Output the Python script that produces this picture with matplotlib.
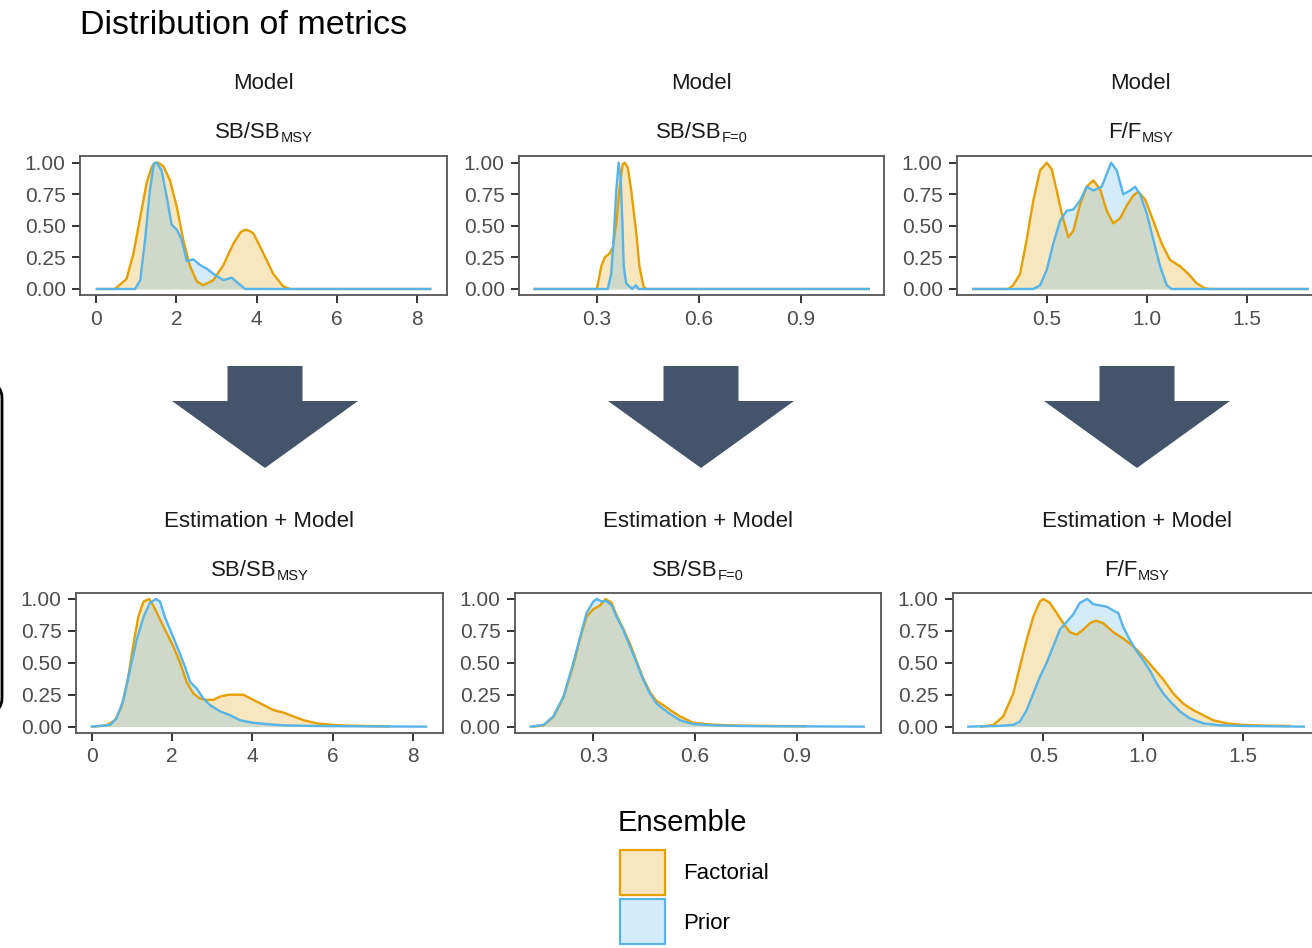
import matplotlib
matplotlib.use("Agg")
import matplotlib.pyplot as plt
from matplotlib.patches import Polygon, FancyBboxPatch, Patch

plt.rcParams['font.family'] = ['Liberation Sans', 'DejaVu Sans']

FAC_COL = '#E69F00'
PRI_COL = '#56B4E9'
ARROW_COL = '#44546A'

# scaled densities, "Model" row
sbmsy_m_fac_x = [0.02, 0.47, 0.76, 0.93, 1.10, 1.26, 1.39, 1.47, 1.55, 1.68, 1.84, 2.01, 2.17, 2.34, 2.51,
                 2.67, 2.92, 3.17, 3.42, 3.60, 3.71, 3.82, 3.92, 4.17, 4.41, 4.66, 4.83, 8.32]
sbmsy_m_fac_y = [0, 0, 0.08, 0.28, 0.57, 0.84, 0.97, 1.0, 1.0, 0.97, 0.86, 0.65, 0.39, 0.18, 0.06,
                 0.03, 0.07, 0.19, 0.36, 0.45, 0.47, 0.46, 0.44, 0.28, 0.12, 0.02, 0, 0]
sbmsy_m_pri_x = [0.02, 0.97, 1.10, 1.22, 1.34, 1.44, 1.51, 1.63, 1.76, 1.88, 2.01, 2.13, 2.26, 2.42, 2.59,
                 2.76, 2.92, 3.17, 3.38, 3.54, 3.71, 8.32]
sbmsy_m_pri_y = [0, 0, 0.07, 0.39, 0.78, 0.995, 1.0, 0.94, 0.73, 0.51, 0.47, 0.39, 0.22, 0.235, 0.19,
                 0.16, 0.12, 0.07, 0.09, 0.045, 0, 0]

sbf0_m_fac_x = [0.117, 0.30, 0.313, 0.323, 0.337, 0.347, 0.357, 0.367, 0.376, 0.382, 0.391, 0.401, 0.416,
                0.425, 0.437, 0.445, 1.099]
sbf0_m_fac_y = [0, 0, 0.18, 0.25, 0.28, 0.33, 0.52, 0.81, 0.99, 1.0, 0.96, 0.78, 0.44, 0.18, 0.02, 0, 0]
sbf0_m_pri_x = [0.117, 0.332, 0.342, 0.349, 0.357, 0.364, 0.370, 0.375, 0.379, 0.386, 0.396, 0.404, 0.414,
                0.423, 1.099]
sbf0_m_pri_y = [0, 0, 0.12, 0.39, 0.78, 1.0, 0.88, 0.52, 0.18, 0.045, 0.02, 0, 0.03, 0, 0]

fmsy_m_fac_x = [0.133, 0.308, 0.333, 0.367, 0.40, 0.433, 0.467, 0.50, 0.525, 0.55, 0.575, 0.608, 0.633,
                0.667, 0.70, 0.733, 0.767, 0.80, 0.833, 0.867, 0.90, 0.933, 0.958, 0.992, 1.033, 1.075,
                1.117, 1.167, 1.208, 1.25, 1.292, 1.317, 1.805]
fmsy_m_fac_y = [0, 0, 0.03, 0.12, 0.39, 0.70, 0.94, 1.0, 0.95, 0.78, 0.60, 0.41, 0.46,
                0.67, 0.81, 0.86, 0.79, 0.62, 0.52, 0.56, 0.66, 0.74, 0.77, 0.71, 0.54, 0.36,
                0.23, 0.18, 0.12, 0.045, 0.005, 0, 0]
fmsy_m_pri_x = [0.133, 0.433, 0.467, 0.50, 0.533, 0.567, 0.60, 0.633, 0.667, 0.70, 0.733, 0.775, 0.80,
                0.822, 0.85, 0.883, 0.917, 0.942, 0.967, 1.0, 1.033, 1.067, 1.10, 1.125, 1.805]
fmsy_m_pri_y = [0, 0, 0.03, 0.15, 0.36, 0.54, 0.62, 0.63, 0.70, 0.81, 0.78, 0.81, 0.91,
                1.0, 0.94, 0.75, 0.78, 0.81, 0.75, 0.60, 0.39, 0.18, 0.03, 0, 0]

# scaled densities, "Estimation + Model" row
sbmsy_e_fac_x = [0.04, 0.37, 0.58, 0.75, 0.91, 1.04, 1.16, 1.29, 1.43, 1.53, 1.70, 1.87, 2.03, 2.20, 2.36,
                 2.53, 2.69, 2.86, 3.03, 3.19, 3.40, 3.61, 3.77, 4.02, 4.27, 4.52, 4.77, 5.02, 5.27, 5.60,
                 6.01, 6.34, 6.84, 7.38]
sbmsy_e_fac_y = [0, 0.01, 0.05, 0.16, 0.39, 0.65, 0.86, 0.98, 1.0, 0.95, 0.84, 0.73, 0.63, 0.50, 0.35,
                 0.26, 0.22, 0.21, 0.21, 0.235, 0.25, 0.25, 0.25, 0.21, 0.17, 0.13, 0.11, 0.08, 0.05, 0.025,
                 0.013, 0.008, 0.005, 0.002]
sbmsy_e_pri_x = [0.0, 0.46, 0.62, 0.79, 0.95, 1.12, 1.29, 1.45, 1.60, 1.70, 1.82, 1.99, 2.16, 2.32, 2.45,
                 2.61, 2.78, 2.94, 3.19, 3.44, 3.69, 4.02, 4.35, 4.77, 5.60, 6.84, 8.32]
sbmsy_e_pri_y = [0, 0.013, 0.065, 0.21, 0.44, 0.68, 0.86, 0.97, 1.0, 0.98, 0.86, 0.73, 0.60, 0.47, 0.35,
                 0.30, 0.22, 0.17, 0.12, 0.09, 0.05, 0.03, 0.02, 0.01, 0.005, 0.002, 0]

sbf0_e_fac_x = [0.123, 0.153, 0.182, 0.212, 0.241, 0.261, 0.280, 0.30, 0.320, 0.336, 0.354, 0.369, 0.388,
                0.408, 0.428, 0.447, 0.467, 0.487, 0.506, 0.526, 0.556, 0.595, 0.654, 0.733, 0.831, 0.924]
sbf0_e_fac_y = [0, 0.01, 0.075, 0.23, 0.48, 0.69, 0.86, 0.92, 0.95, 1.0, 0.97, 0.87, 0.77,
                0.65, 0.51, 0.38, 0.27, 0.20, 0.17, 0.13, 0.08, 0.03, 0.015, 0.008, 0.005, 0.003]
sbf0_e_pri_x = [0.115, 0.153, 0.182, 0.212, 0.241, 0.261, 0.280, 0.30, 0.31, 0.325, 0.339, 0.354, 0.369,
                0.388, 0.408, 0.428, 0.447, 0.467, 0.487, 0.506, 0.526, 0.556, 0.595, 0.654, 0.733, 0.831,
                1.098]
sbf0_e_pri_y = [0, 0.013, 0.08, 0.235, 0.50, 0.70, 0.89, 0.98, 1.0, 0.98, 0.985, 0.95, 0.86,
                0.76, 0.63, 0.50, 0.37, 0.26, 0.18, 0.14, 0.10, 0.05, 0.02, 0.01, 0.005, 0.003, 0]

fmsy_e_fac_x = [0.19, 0.25, 0.30, 0.35, 0.383, 0.417, 0.45, 0.483, 0.50, 0.533, 0.567, 0.60, 0.633, 0.667,
                0.70, 0.733, 0.763, 0.80, 0.85, 0.90, 0.95, 1.0, 1.05, 1.10, 1.15, 1.20, 1.25, 1.30, 1.35,
                1.417, 1.50, 1.60, 1.733]
fmsy_e_fac_y = [0, 0.013, 0.08, 0.26, 0.47, 0.68, 0.86, 0.98, 1.0, 0.97, 0.89, 0.81, 0.74, 0.72,
                0.76, 0.81, 0.83, 0.81, 0.74, 0.69, 0.63, 0.55, 0.46, 0.37, 0.26, 0.18, 0.13, 0.09, 0.05,
                0.026, 0.013, 0.008, 0.005]
fmsy_e_pri_x = [0.125, 0.267, 0.35, 0.383, 0.417, 0.45, 0.483, 0.517, 0.55, 0.583, 0.617, 0.65, 0.683,
                0.72, 0.75, 0.783, 0.817, 0.85, 0.875, 0.90, 0.933, 0.967, 1.0, 1.033, 1.067, 1.10, 1.133,
                1.183, 1.233, 1.30, 1.383, 1.517, 1.803]
fmsy_e_pri_y = [0, 0.005, 0.013, 0.04, 0.13, 0.26, 0.39, 0.50, 0.63, 0.76, 0.82, 0.88, 0.97,
                1.0, 0.96, 0.95, 0.94, 0.91, 0.89, 0.78, 0.68, 0.59, 0.52, 0.44, 0.34, 0.26, 0.20,
                0.12, 0.065, 0.026, 0.01, 0.005, 0]

row_labels = ['Model', 'Estimation + Model']
metric_main = ['SB/SB', 'SB/SB', 'F/F']
metric_sub = ['MSY', 'F=0', 'MSY']
metric_ticks = [[0, 2, 4, 6, 8], [0.3, 0.6, 0.9], [0.5, 1.0, 1.5]]
metric_ticklabels = [['0', '2', '4', '6', '8'], ['0.3', '0.6', '0.9'], ['0.5', '1.0', '1.5']]
y_ticks = [0, 0.25, 0.5, 0.75, 1.0]
y_ticklabels = ['0.00', '0.25', '0.50', '0.75', '1.00']
ensembles = ['Factorial', 'Prior']

panels = [
    [(sbmsy_m_fac_x, sbmsy_m_fac_y, sbmsy_m_pri_x, sbmsy_m_pri_y),
     (sbf0_m_fac_x, sbf0_m_fac_y, sbf0_m_pri_x, sbf0_m_pri_y),
     (fmsy_m_fac_x, fmsy_m_fac_y, fmsy_m_pri_x, fmsy_m_pri_y)],
    [(sbmsy_e_fac_x, sbmsy_e_fac_y, sbmsy_e_pri_x, sbmsy_e_pri_y),
     (sbf0_e_fac_x, sbf0_e_fac_y, sbf0_e_pri_x, sbf0_e_pri_y),
     (fmsy_e_fac_x, fmsy_e_fac_y, fmsy_e_pri_x, fmsy_e_pri_y)],
]

W, H = 1312, 948
fig = plt.figure(figsize=(W / 100, H / 100), dpi=100)
renderer = fig.canvas.get_renderer()

# pixel boxes (left, right) per column and (top, bottom) per row
col_boxes = [[(80, 446.7), (519, 884), (957, 1324.5)],
             [(76, 442.6), (514.7, 881), (952.7, 1321)]]
row_boxes = [(156.4, 295.3), (592.6, 733)]
xlims = [[(-0.40, 8.73), (0.071, 1.144), (0.0515, 1.889)],
         [(-0.39, 8.73), (0.068, 1.149), (0.047, 1.889)]]
# baselines of the two strip lines per row
strip_base = [(89, 137.5), (527, 575.5)]
STRIP_SIZE = 16
SUB_SIZE = 10.5


def px_axes(left, right, top, bottom):
    return fig.add_axes([left / W, 1 - bottom / H, (right - left) / W, (bottom - top) / H])


def sub_label(cx, base, main, sub):
    # main text plus a lowered subscript, centred as one block
    t1 = fig.text(0, 0, main, fontsize=STRIP_SIZE, color='#1a1a1a', ha='left', va='baseline')
    t2 = fig.text(0, 0, sub, fontsize=SUB_SIZE, color='#1a1a1a', ha='left', va='baseline')
    w1 = t1.get_window_extent(renderer).width
    w2 = t2.get_window_extent(renderer).width
    x0 = cx - (w1 + w2) / 2
    t1.set_position((x0 / W, 1 - base / H))
    t2.set_position(((x0 + w1 + 0.5) / W, 1 - (base + 4.5) / H))


for r in range(2):
    top, bottom = row_boxes[r]
    for c in range(3):
        left, right = col_boxes[r][c]
        ax = px_axes(left, right, top, bottom)
        fx, fy, px_, py_ = panels[r][c]
        ax.fill_between(fx, fy, 0, color=FAC_COL, alpha=0.25, lw=0)
        ax.plot(fx, fy, color=FAC_COL, lw=1.7, solid_joinstyle='round')
        ax.fill_between(px_, py_, 0, color=PRI_COL, alpha=0.25, lw=0)
        ax.plot(px_, py_, color=PRI_COL, lw=1.7, solid_joinstyle='round')
        ax.set_xlim(*xlims[r][c])
        ax.set_ylim(-0.05, 1.05)
        ax.set_xticks(metric_ticks[c])
        ax.set_xticklabels(metric_ticklabels[c])
        ax.set_yticks(y_ticks)
        ax.set_yticklabels(y_ticklabels)
        ax.tick_params(length=5.8, width=1.4, color='#333333', labelcolor='#4d4d4d',
                       labelsize=15, pad=4.5)
        for s in ax.spines.values():
            s.set_color('#555555')
            s.set_linewidth(1.3)
        cx = (left + right) / 2
        fig.text(cx / W, 1 - strip_base[r][0] / H, row_labels[r], ha='center', va='baseline',
                 fontsize=STRIP_SIZE, color='#1a1a1a')
        sub_label(cx, strip_base[r][1], metric_main[c], metric_sub[c])

# overlay in pixel coordinates for arrows and side bracket
over = fig.add_axes([0, 0, 1, 1], zorder=-1)
over.set_xlim(0, W)
over.set_ylim(H, 0)
over.axis('off')
for cx in [265, 701, 1137]:
    pts = [(cx - 37.5, 366), (cx + 37.5, 366), (cx + 37.5, 401), (cx + 93, 401),
           (cx, 468), (cx - 93, 401), (cx - 37.5, 401)]
    over.add_patch(Polygon(pts, closed=True, facecolor=ARROW_COL, edgecolor='none'))
over.add_patch(FancyBboxPatch((-200, 384), 202, 328, boxstyle='round,pad=0,rounding_size=14',
                              facecolor='none', edgecolor='black', lw=2))

fig.text(80 / W, 1 - 33.5 / H, 'Distribution of metrics', ha='left', va='baseline',
         fontsize=24.5, color='black')

# legend: title as its own text, keys below it
fig.text(618 / W, 1 - 831 / H, 'Ensemble', ha='left', va='baseline', fontsize=21, color='black')
handles = [Patch(facecolor=(0.902, 0.624, 0.0, 0.25), edgecolor=FAC_COL, lw=1.6),
           Patch(facecolor=(0.337, 0.706, 0.914, 0.25), edgecolor=PRI_COL, lw=1.6)]
fig.legend(handles, ensembles, loc='upper left', bbox_to_anchor=(620 / W, 1 - 850 / H),
           frameon=False, fontsize=16, handlelength=2.03, handleheight=2.74, labelspacing=0.2,
           handletextpad=0.8, borderpad=0, borderaxespad=0)

fig.savefig('out.png', dpi=100)
